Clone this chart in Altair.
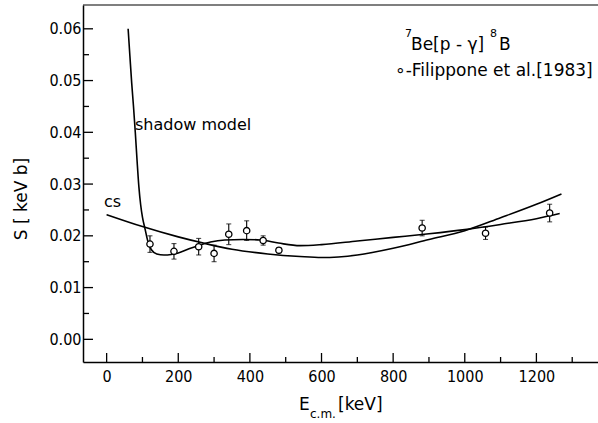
import altair as alt
import pandas as pd

# ---- data ----
pts_x = [121, 188, 257, 300, 341, 391, 437, 481, 881, 1058, 1237]
pts_y = [0.0184, 0.0170, 0.0179, 0.0166, 0.0203, 0.0210, 0.0191, 0.0172, 0.0215, 0.0205, 0.0244]
pts_err = [0.0016, 0.0015, 0.0016, 0.0016, 0.0020, 0.0019, 0.0009, 0.0005, 0.0015, 0.0012, 0.0017]

cs_x = [0, 100, 200, 270, 350, 450, 540, 600, 700, 800, 900, 1000, 1100, 1200, 1270]
cs_y = [0.0241, 0.0218, 0.0198, 0.0186, 0.0174, 0.0165, 0.0160, 0.0158, 0.0163, 0.0176, 0.0193, 0.0210, 0.0235, 0.0261, 0.0281]

sh_x = [60, 65, 70, 75, 80, 85, 90, 95, 100, 107, 116, 125, 140, 160, 180, 200, 230, 260,
        290, 330, 380, 430, 480, 540, 600, 700, 800, 900, 1000, 1100, 1200, 1265]
sh_y = [0.0600, 0.0547, 0.0495, 0.0450, 0.0400, 0.0345, 0.0295, 0.0260, 0.0236, 0.0214, 0.0187,
        0.0173, 0.0165, 0.0163, 0.0164, 0.0167, 0.0175, 0.0182, 0.0188, 0.0192, 0.0193, 0.0192,
        0.0186, 0.0181, 0.0183, 0.0190, 0.0197, 0.0204, 0.0212, 0.0222, 0.0233, 0.0243]

x_major = [0, 200, 400, 600, 800, 1000, 1200]
x_minor = [100, 300, 500, 700, 900, 1100, 1300]
y_major = [0.00, 0.01, 0.02, 0.03, 0.04, 0.05, 0.06]
y_minor = [0.005, 0.015, 0.025, 0.035, 0.045, 0.055]

X_DOMAIN = [-66, 1372]
Y_DOMAIN = [-0.00438, 0.0646]
W, H = 515, 357
FONT = "DejaVu Sans Condensed"
TFONT = "DejaVu Sans"

lines = pd.concat([
    pd.DataFrame({"E": cs_x, "S": cs_y, "model": "cs"}),
    pd.DataFrame({"E": sh_x, "S": sh_y, "model": "shadow"}),
])
pts = pd.DataFrame({"E": pts_x, "S": pts_y, "lo": [y - e for y, e in zip(pts_y, pts_err)],
                    "hi": [y + e for y, e in zip(pts_y, pts_err)]})

xs = alt.Scale(domain=X_DOMAIN, nice=False, zero=False)
ys = alt.Scale(domain=Y_DOMAIN, nice=False, zero=False)

x_enc = alt.X("E:Q", scale=xs, axis=alt.Axis(values=x_major, format="d", title=None, ticks=False,
              grid=False, labelFont=FONT, labelFontSize=16, labelPadding=6, labelColor="black",
              domainColor="black", domainWidth=1.5))
y_enc = alt.Y("S:Q", scale=ys, axis=alt.Axis(values=y_major, format=".2f", title=None, ticks=False,
              grid=False, labelFont=FONT, labelFontSize=16, labelPadding=2, labelColor="black",
              domainColor="black", domainWidth=1.5))

curves = alt.Chart(lines).mark_line(color="black", strokeWidth=1.6, interpolate="monotone").encode(
    x=x_enc, y=y_enc, detail="model:N")

err = alt.Chart(pts).mark_rule(color="black", strokeWidth=1.1).encode(
    x=alt.X("E:Q", scale=xs), y=alt.Y("lo:Q", scale=ys), y2="hi:Q")
cap_lo = alt.Chart(pts).mark_tick(orient="horizontal", size=5, thickness=1.1, color="black").encode(
    x=alt.X("E:Q", scale=xs), y=alt.Y("lo:Q", scale=ys))
cap_hi = alt.Chart(pts).mark_tick(orient="horizontal", size=5, thickness=1.1, color="black").encode(
    x=alt.X("E:Q", scale=xs), y=alt.Y("hi:Q", scale=ys))
circles = alt.Chart(pts).mark_point(shape="circle", filled=True, fill="white", stroke="black",
                                    strokeWidth=1.3, size=40, opacity=1).encode(
    x=alt.X("E:Q", scale=xs), y=alt.Y("S:Q", scale=ys))

# inward axis ticks
def xticks(vals, length):
    return alt.Chart(pd.DataFrame({"E": vals})).mark_rule(color="black", strokeWidth=1.3).encode(
        x=alt.X("E:Q", scale=xs), y=alt.value(H), y2=alt.value(H - length))

def yticks(vals, length):
    return alt.Chart(pd.DataFrame({"S": vals})).mark_rule(color="black", strokeWidth=1.3).encode(
        y=alt.Y("S:Q", scale=ys), x=alt.value(0), x2=alt.value(length))

top_line = alt.Chart(pd.DataFrame({"a": [0]})).mark_rule(color="black", strokeWidth=1.2).encode(
    x=alt.value(0), x2=alt.value(W), y=alt.value(0))

def txt(s, x, y, size=16, angle=0, align="left", baseline="alphabetic", font=TFONT):
    return alt.Chart(pd.DataFrame({"t": [s]})).mark_text(
        text=s, font=font, fontSize=size, align=align, baseline=baseline, angle=angle,
        color="black").encode(x=alt.value(x), y=alt.value(y))

labels = [
    txt("7", 322, 32, 11),
    txt("Be[p - γ]", 328, 45, 17),
    txt("8", 407, 32, 11),
    txt("B", 416, 45, 17),
    txt("∘-Filippone et al.[1983]", 312, 71, 17),
    txt("shadow model", 52, 125, 16),
    txt("cs", 21, 202, 16),
    txt("E", 216, 405, 17),
    txt("c.m.", 227, 413, 12),
    txt("[keV]", 255, 405, 17),
    txt("S [ keV b]", -61, 194, 17, angle=270, align="center", baseline="middle"),
]

chart = alt.layer(
    curves, err, cap_lo, cap_hi, circles,
    xticks(x_major, 9), xticks(x_minor, 5), yticks(y_major, 10), yticks(y_minor, 6),
    top_line, *labels
).properties(
    width=W, height=H,
    autosize=alt.AutoSizeParams(type="none"),
    padding={"left": 83, "top": 5, "right": 0, "bottom": 61},
    background="white",
).configure_view(stroke=None)

chart.save("out.html", embed_options={"renderer": "svg", "actions": False})
